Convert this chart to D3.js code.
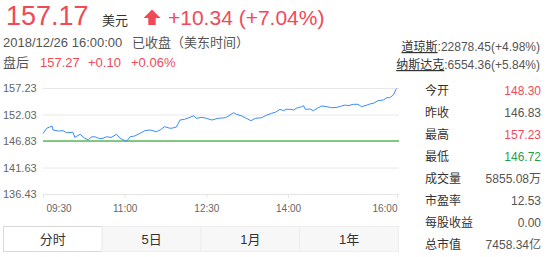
<!DOCTYPE html>
<html>
<head>
<meta charset="utf-8">
<script src="https://cdn.jsdelivr.net/npm/d3@7"></script>
<style>
  body { margin: 0; background: #fff; }
  svg text { font-family: "Liberation Sans", Arial, "Noto Sans CJK SC", sans-serif; }
</style>
</head>
<body>
<div id="chart-area"></div>
<script>
// intraday prices (time, price)
var times = ["09:30","09:34","09:40","09:41","09:47","09:52","09:56","10:03","10:05","10:11",
  "10:16","10:20","10:23","10:27","10:32","10:36","10:40","10:45","10:51","10:55",
  "10:58","11:02","11:06","11:11","11:17","11:22","11:28","11:35","11:39","11:44",
  "11:50","11:53","11:57","12:01","12:06","12:12","12:16","12:19","12:25","12:30",
  "12:36","12:43","12:51","12:56","13:00","13:03","13:09","13:14","13:19","13:24",
  "13:31","13:35","13:42","13:46","13:51","13:55","13:58","14:02","14:06","14:09",
  "14:15","14:17","14:19","14:24","14:28","14:32","14:37","14:43","14:48","14:54",
  "14:59","15:03","15:06","15:12","15:17","15:21","15:27","15:30","15:34","15:39",
  "15:45","15:49","15:52","15:56","15:59","16:00"];
var prices = [148.30,149.32,149.77,148.99,148.79,148.85,148.46,148.54,147.56,148.14,
  147.36,147.03,147.61,147.67,147.32,147.36,147.67,147.52,148.14,147.36,
  147.12,146.74,147.67,147.81,148.34,148.85,148.99,148.65,148.99,149.64,
  149.32,149.38,149.58,150.95,151.09,151.48,151.79,151.28,151.48,151.28,
  150.95,151.28,151.40,151.93,152.38,152.07,151.74,151.28,150.81,151.28,
  151.40,151.79,152.27,152.46,153.05,152.78,153.05,153.05,152.91,153.25,
  153.56,153.76,153.05,153.11,152.78,153.25,153.70,153.56,153.36,153.44,
  153.70,153.89,153.76,154.03,154.03,153.56,153.89,154.09,154.23,154.74,
  154.88,155.33,155.33,155.86,156.97,157.17];

var prevClose = 146.83;
var yTicks = [157.23, 152.03, 146.83, 141.63, 136.43];
var xTicks = ["09:30", "11:00", "12:30", "14:00", "16:00"];

var statLabels = ["今开", "昨收", "最高", "最低", "成交量", "市盈率", "每股收益", "总市值"];
var statValues = ["148.30", "146.83", "157.23", "146.72", "5855.08万", "12.53", "0.00", "7458.34亿"];
var statTone   = ["up", "flat", "up", "down", "flat", "flat", "flat", "flat"];

var indexNames  = ["道琼斯", "纳斯达克"];
var indexValues = [":22878.45(+4.98%)", ":6554.36(+5.84%)"];

var tabs = ["分时", "5日", "1月", "1年"];

var RED = "#f24957", GREEN = "#1f9d4f", GREY = "#555", DARK = "#333";
var toneColor = { up: RED, down: GREEN, flat: GREY };

var W = 549, H = 257;
var svg = d3.select("#chart-area").append("svg")
  .attr("width", W).attr("height", H);

// header
svg.append("text").attr("x", 6).attr("y", 25)
  .attr("font-size", "27px").attr("fill", RED).text("157.17");
svg.append("text").attr("x", 102).attr("y", 25)
  .attr("font-size", "13px").attr("fill", DARK).text("美元");
svg.append("path")
  .attr("d", "M152,9.5 L160.5,18 L155.7,18 L155.7,25 L148.3,25 L148.3,18 L143.5,18 Z")
  .attr("fill", RED);
svg.append("text").attr("x", 168).attr("y", 25)
  .attr("font-size", "21px").attr("fill", RED).text("+10.34 (+7.04%)");

svg.append("text").attr("x", 3).attr("y", 47)
  .attr("font-size", "13px").attr("fill", GREY).text("2018/12/26 16:00:00");
svg.append("text").attr("x", 132).attr("y", 47)
  .attr("font-size", "13px").attr("fill", GREY).text("已收盘（美东时间）");

svg.append("text").attr("x", 3).attr("y", 67)
  .attr("font-size", "13px").attr("fill", GREY).text("盘后");
var after = svg.append("text").attr("y", 67).attr("font-size", "13px").attr("fill", RED);
after.append("tspan").attr("x", 40).text("157.27");
after.append("tspan").attr("x", 88).text("+0.10");
after.append("tspan").attr("x", 131).text("+0.06%");

// index quotes
indexNames.forEach(function(n, i){
  var t = svg.append("text").attr("x", 540).attr("y", 51 + i * 18)
    .attr("text-anchor", "end").attr("font-size", "12px");
  t.append("tspan").attr("fill", DARK).style("text-decoration", "underline").text(n);
  t.append("tspan").attr("fill", GREY).text(indexValues[i]);
});

// stats table
var rows = svg.selectAll(".stat").data(statLabels).enter().append("g")
  .attr("class", "stat")
  .attr("transform", function(d, i){ return "translate(0," + (94.5 + i * 22.1) + ")"; });
rows.append("text").attr("x", 425).attr("font-size", "12px").attr("fill", DARK)
  .text(function(d){ return d; });
rows.append("text").attr("x", 541).attr("text-anchor", "end").attr("font-size", "12px")
  .attr("fill", function(d, i){ return toneColor[statTone[i]]; })
  .text(function(d, i){ return statValues[i]; });

// chart
var parseTime = d3.timeParse("%H:%M");
var data = times.map(function(t, i){ return { t: parseTime(t), p: prices[i] }; });

var x = d3.scaleTime()
  .domain([parseTime("09:30"), parseTime("16:00")])
  .range([43, 397]);
var y = d3.scaleLinear()
  .domain([136.43, 157.23])
  .range([194, 88]);

var yAxis = svg.append("g")
  .attr("transform", "translate(43,0)")
  .call(d3.axisLeft(y).tickValues(yTicks).tickSize(-356).tickFormat(d3.format(".2f")));
yAxis.select(".domain").remove();
yAxis.selectAll("line").attr("stroke", "#e8e8e8");
yAxis.selectAll("text").attr("x", -40).attr("text-anchor", "start")
  .attr("font-size", "11px").attr("fill", "#666");

var xAxis = svg.append("g")
  .attr("transform", "translate(0,194)")
  .call(d3.axisBottom(x).tickValues(xTicks.map(parseTime)).tickSize(4)
    .tickFormat(d3.timeFormat("%H:%M")));
xAxis.select(".domain").attr("d", "M43,0.5H399").attr("stroke", "#e5e5e5");
xAxis.selectAll("line").attr("stroke", "#e5e5e5");
xAxis.selectAll("text").attr("font-size", "10px").attr("fill", "#666").attr("dy", "1.1em")
  .attr("text-anchor", function(d, i){ return i === 0 ? "start" : (i === xTicks.length - 1 ? "end" : "middle"); })
  .attr("x", function(d, i){ return i === 0 ? 3 : 0; });

// previous close line
svg.append("line")
  .attr("x1", 43).attr("x2", 399)
  .attr("y1", y(prevClose)).attr("y2", y(prevClose))
  .attr("stroke", "#5cb85c").attr("stroke-width", 1.5);

svg.append("path")
  .datum(data)
  .attr("fill", "none")
  .attr("stroke", "#3b8bff")
  .attr("stroke-width", 1)
  .attr("d", d3.line().x(function(d){ return x(d.t); }).y(function(d){ return y(d.p); }));

// tabs
var tx = d3.scaleBand().domain(tabs).range([3.5, 398.5]);
var tg = svg.selectAll(".tab").data(tabs).enter().append("g").attr("class", "tab");
tg.append("rect")
  .attr("x", function(d){ return tx(d); }).attr("y", 226.5)
  .attr("width", tx.bandwidth()).attr("height", 25)
  .attr("fill", function(d, i){ return i === 0 ? "#fff" : "#f7f7f7"; })
  .attr("stroke", function(d, i){ return i === 0 ? "#d9d9d9" : "#eeeeee"; });
tg.append("text")
  .attr("x", function(d){ return tx(d) + tx.bandwidth() / 2; }).attr("y", 243.5)
  .attr("text-anchor", "middle").attr("font-size", "13px").attr("fill", DARK)
  .text(function(d){ return d; });
</script>
</body>
</html>
